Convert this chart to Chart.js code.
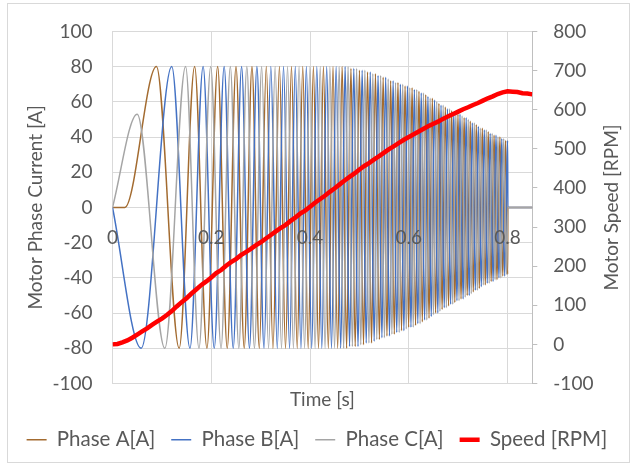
<!DOCTYPE html>
<html>
<head>
<meta charset="utf-8">
<script src="https://cdn.jsdelivr.net/npm/chart.js@4/dist/chart.umd.min.js"></script>
<style>
  html, body { margin: 0; padding: 0; background: #fff; }
  canvas { display: block; }
</style>
</head>
<body>
<canvas id="chart" width="634" height="466"></canvas>
<script>
// [time s, current A] at each peak / trough
const phaseA = [[0,0],[0.025,0],[0.089,80],[0.135,-80],[0.1663,80],[0.1912,-80],[0.2129,80],[0.2323,-80],[0.2501,80],[0.2667,-80],
  [0.2824,80],[0.2973,-80],[0.3114,80],[0.3249,-80],[0.3380,80],[0.3503,-80],[0.3624,80],[0.3740,-80],[0.3852,80],[0.3962,-80],
  [0.4068,80],[0.4171,-80],[0.4271,80],[0.4370,-80],[0.4465,80],[0.4559,-80],[0.4650,80],[0.4740,-80],[0.4828,79],[0.4914,-79],
  [0.5000,78],[0.5082,-78],[0.5164,77],[0.5245,-77],[0.5324,76],[0.5404,-75],[0.5480,74],[0.5557,-73],[0.5632,72],[0.5706,-72],
  [0.5780,71],[0.5852,-70],[0.5924,69],[0.5996,-68],[0.6066,68],[0.6136,-67],[0.6205,66],[0.6273,-65],[0.6342,64],[0.6409,-63],
  [0.6476,62],[0.6542,-60],[0.6609,59],[0.6674,-58],[0.6739,57],[0.6804,-56],[0.6867,55],[0.6931,-54],[0.6995,53],[0.7057,-52],
  [0.7120,51],[0.7182,-50],[0.7244,49],[0.7305,-48],[0.7366,47],[0.7427,-46],[0.7488,45],[0.7548,-44],[0.7608,43],[0.7667,-42],
  [0.7726,41],[0.7785,-41],[0.7844,40],[0.7902,-39],[0.7960,38],[0.8000,-38],[0.8005,0],[0.85,0]];

const phaseB = [[0,0],[0.058,-80],[0.120,80],[0.1569,-80],[0.1835,80],[0.2060,-80],[0.2261,80],[0.2444,-80],[0.2614,80],[0.2773,-80],
  [0.2924,80],[0.3068,-80],[0.3206,80],[0.3336,-80],[0.3463,80],[0.3585,-80],[0.3701,80],[0.3816,-80],[0.3925,80],[0.4033,-80],
  [0.4137,80],[0.4238,-80],[0.4337,80],[0.4434,-80],[0.4528,80],[0.4621,-80],[0.4710,80],[0.4800,-79],[0.4886,79],[0.4971,-79],
  [0.5055,78],[0.5137,-77],[0.5219,77],[0.5298,-76],[0.5377,75],[0.5455,-74],[0.5531,74],[0.5608,-73],[0.5682,72],[0.5755,-71],
  [0.5829,70],[0.5900,-70],[0.5972,69],[0.6043,-68],[0.6112,67],[0.6182,-66],[0.6251,65],[0.6319,-64],[0.6387,63],[0.6454,-62],
  [0.6520,61],[0.6587,-60],[0.6652,58],[0.6717,-57],[0.6782,56],[0.6846,-55],[0.6910,54],[0.6974,-53],[0.7036,53],[0.7099,-52],
  [0.7161,51],[0.7223,-50],[0.7285,48],[0.7346,-47],[0.7407,46],[0.7467,-45],[0.7528,44],[0.7588,-43],[0.7647,42],[0.7706,-42],
  [0.7765,41],[0.7824,-40],[0.7882,39],[0.7941,-39],[0.7999,38],[0.8005,0],[0.85,0]];

const phaseC = [[0,0],[0.050,53],[0.106,-80],[0.148,80],[0.1751,-80],[0.1989,80],[0.2198,-80],[0.2386,80],[0.2558,-80],[0.2720,80],
  [0.2874,-80],[0.3021,80],[0.3160,-80],[0.3293,80],[0.3422,-80],[0.3544,80],[0.3663,-80],[0.3778,80],[0.3889,-80],[0.3998,80],
  [0.4102,-80],[0.4206,80],[0.4304,-80],[0.4402,80],[0.4496,-80],[0.4590,80],[0.4680,-80],[0.4770,80],[0.4857,-79],[0.4943,79],
  [0.5027,-78],[0.5110,78],[0.5192,-77],[0.5271,76],[0.5351,-75],[0.5429,75],[0.5506,-74],[0.5582,73],[0.5657,-72],[0.5731,71],
  [0.5805,-71],[0.5876,70],[0.5948,-69],[0.6019,68],[0.6089,-68],[0.6159,67],[0.6228,-66],[0.6296,65],[0.6364,-64],[0.6432,62],
  [0.6498,-61],[0.6565,60],[0.6630,-59],[0.6695,58],[0.6760,-57],[0.6825,56],[0.6889,-55],[0.6952,54],[0.7016,-53],[0.7078,52],
  [0.7141,-51],[0.7203,50],[0.7264,-49],[0.7326,48],[0.7387,-47],[0.7447,45],[0.7508,-44],[0.7568,44],[0.7627,-43],[0.7687,42],
  [0.7746,-41],[0.7805,40],[0.7863,-40],[0.7921,39],[0.7980,-38],[0.8005,0],[0.85,0]];

// [time s, speed RPM]
const speed = [[0,0],[0.01,1],[0.02,5],[0.03,10],[0.04,17],[0.05,25],[0.06,33],[0.07,41],[0.08,50],[0.09,58],
  [0.10,66],[0.11,75],[0.12,85],[0.13,97],[0.14,108],[0.15,118],[0.16,130],[0.17,141],[0.18,152],[0.19,161],
  [0.20,171],[0.21,182],[0.22,190],[0.23,201],[0.24,210],[0.25,218],[0.26,228],[0.27,236],[0.28,244],[0.29,253],
  [0.30,261],[0.31,270],[0.32,279],[0.33,288],[0.34,297],[0.35,305],[0.36,315],[0.37,324],[0.38,334],[0.39,342],
  [0.40,352],[0.41,362],[0.42,371],[0.43,380],[0.44,390],[0.45,399],[0.46,409],[0.47,419],[0.48,428],[0.49,437],
  [0.50,447],[0.51,456],[0.52,464],[0.53,473],[0.54,481],[0.55,490],[0.56,499],[0.57,507],[0.58,515],[0.59,523],
  [0.60,530],[0.61,537],[0.62,544],[0.63,551],[0.64,558],[0.65,564],[0.66,570],[0.67,577],[0.68,583],[0.69,589],
  [0.70,595],[0.71,601],[0.72,606],[0.73,612],[0.74,617],[0.75,623],[0.76,629],[0.77,634],[0.78,640],[0.79,644],
  [0.80,647],[0.81,646],[0.82,645],[0.83,642],[0.84,641],[0.85,639]];

const seriesNames = ['Phase A[A]', 'Phase B[A]', 'Phase C[A]', 'Speed [RPM]'];
const seriesColors = ['#a36b30', '#4472c4', '#a5a5a5', '#ff0000'];
const axisTitles = ['Time [s]', 'Motor Phase Current [A]', 'Motor Speed [RPM]'];

const toPoints = rows => rows.map(([x, y]) => ({ x, y }));
const grey = '#d9d9d9';
const textGrey = '#595959';
const fontSize = 19;

Chart.defaults.font.family = 'Lato, "Open Sans", sans-serif';
Chart.defaults.font.size = fontSize;
Chart.defaults.color = textGrey;

// white page, thin outer frame, and the right title read bottom-to-top
const frame = {
  id: 'frame',
  beforeDraw(chart) {
    const c = chart.ctx;
    c.save();
    c.fillStyle = '#fff';
    c.fillRect(0, 0, chart.width, chart.height);
    c.strokeStyle = grey;
    c.lineWidth = 1;
    c.strokeRect(7.5, 3.5, 622, 459);
    c.restore();
  },
  afterDraw(chart) {
    const c = chart.ctx;
    const area = chart.chartArea;
    c.save();
    c.translate(612, (area.top + area.bottom) / 2);
    c.rotate(-Math.PI / 2);
    c.font = fontSize + 'px ' + Chart.defaults.font.family;
    c.fillStyle = textGrey;
    c.textAlign = 'center';
    c.textBaseline = 'middle';
    c.fillText(axisTitles[2], 0, 0);
    c.restore();
  }
};

const phaseLine = (i, rows, order) => ({
  label: seriesNames[i],
  data: toPoints(rows),
  borderColor: seriesColors[i],
  backgroundColor: seriesColors[i],
  borderWidth: 1.5,
  pointRadius: 0,
  cubicInterpolationMode: 'monotone',
  xAxisID: 'x',
  yAxisID: 'y',
  order: order
});

new Chart(document.getElementById('chart'), {
  type: 'line',
  data: {
    datasets: [
      phaseLine(0, phaseA, 3),
      phaseLine(1, phaseB, 2),
      phaseLine(2, phaseC, 1),
      {
        label: seriesNames[3],
        data: toPoints(speed),
        borderColor: seriesColors[3],
        backgroundColor: seriesColors[3],
        borderWidth: 4.5,
        pointRadius: 0,
        xAxisID: 'x',
        yAxisID: 'y2',
        order: 0
      }
    ]
  },
  plugins: [frame],
  options: {
    responsive: false,
    animation: false,
    layout: { padding: { top: 22, bottom: 6, left: 0, right: 0 } },
    plugins: {
      tooltip: { enabled: false },
      legend: {
        position: 'bottom',
        labels: {
          usePointStyle: true,
          pointStyle: 'line',
          pointStyleWidth: 20,
          padding: 16,
          font: { size: 20.5 },
          color: textGrey,
          sort: (a, b) => a.datasetIndex - b.datasetIndex
        }
      }
    },
    scales: {
      x: {
        type: 'linear',
        position: { y: 0 },
        min: 0,
        max: 0.85,
        ticks: { stepSize: 0.2, includeBounds: false, padding: 19, maxRotation: 0, autoSkip: false, z: 1 },
        grid: { color: grey, drawTicks: false },
        border: { color: grey }
      },
      x2: {
        type: 'linear',
        axis: 'x',
        position: 'bottom',
        min: 0,
        max: 0.85,
        ticks: { display: false },
        grid: { display: false, drawTicks: false },
        border: { display: false },
        title: { display: true, text: axisTitles[0], padding: { top: 0, bottom: 2 } },
        afterFit: s => { s.height = 30; }
      },
      y: {
        position: 'left',
        min: -100,
        max: 100,
        ticks: { stepSize: 20, padding: 20 },
        grid: { color: grey, drawTicks: false },
        border: { color: grey },
        title: { display: true, text: axisTitles[1], padding: { top: 24, bottom: 0 } },
        afterFit: s => { s.width = 112.5; }
      },
      y2: {
        position: 'right',
        min: -100,
        max: 800,
        ticks: { stepSize: 100, padding: 16 },
        grid: { drawOnChartArea: false, drawTicks: true, tickLength: 5, color: '#bfbfbf' },
        border: { color: '#bfbfbf' },
        afterFit: s => { s.width = 101.7; }
      }
    }
  }
});
</script>
</body>
</html>
